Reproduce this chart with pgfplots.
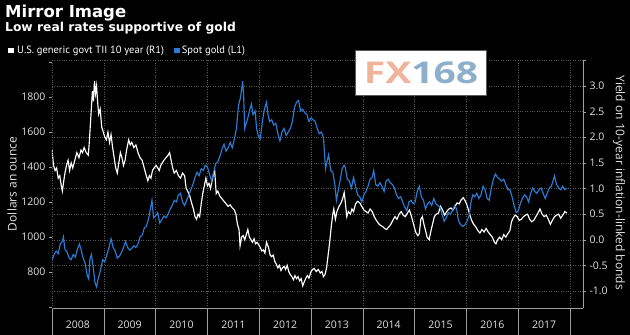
\documentclass[border=0pt]{standalone}
\usepackage{fontspec}
\usepackage{pgfplots}
\usepackage{pgfplotstable}
\pgfplotsset{compat=1.18}
\setmainfont{Open Sans}
\newfontfamily\titlefont{DejaVu Sans}
\newfontfamily\legfont{PT Sans}
\definecolor{goldblue}{HTML}{2B7CD6}
\definecolor{gridc}{HTML}{5A5A5A}
\definecolor{axc}{HTML}{A0A0A0}
\definecolor{txt}{HTML}{E2E2E2}
\definecolor{fxsalmon}{HTML}{EFB49C}
\definecolor{fxblue}{HTML}{8DAFCB}

\pgfplotstableread{
x y
2008.00 870
2008.04 900
2008.08 920
2008.12 905
2008.16 960
2008.20 975
2008.22 1000
2008.25 930
2008.29 915
2008.33 880
2008.37 870
2008.41 900
2008.45 885
2008.49 930
2008.53 960
2008.56 930
2008.60 880
2008.64 850
2008.68 780
2008.71 760
2008.73 870
2008.76 900
2008.79 840
2008.83 740
2008.86 715
2008.89 760
2008.92 790
2008.95 830
2008.98 870
2009.02 860
2009.06 900
2009.10 940
2009.14 990
2009.18 940
2009.22 920
2009.26 880
2009.30 890
2009.34 910
2009.38 940
2009.42 975
2009.46 940
2009.50 925
2009.54 935
2009.58 950
2009.62 940
2009.66 960
2009.70 1000
2009.74 1010
2009.78 1050
2009.82 1060
2009.86 1100
2009.90 1160
2009.93 1210
2009.96 1110
2010.00 1120
2010.04 1140
2010.08 1080
2010.12 1100
2010.16 1120
2010.20 1110
2010.24 1130
2010.28 1160
2010.32 1180
2010.36 1210
2010.40 1200
2010.44 1240
2010.48 1250
2010.52 1200
2010.56 1180
2010.60 1210
2010.64 1240
2010.68 1270
2010.72 1300
2010.76 1340
2010.80 1370
2010.84 1350
2010.88 1390
2010.92 1380
2010.96 1410
2011.00 1400
2011.04 1360
2011.08 1320
2011.12 1370
2011.16 1420
2011.20 1430
2011.24 1460
2011.28 1500
2011.32 1530
2011.36 1490
2011.40 1510
2011.44 1540
2011.48 1510
2011.52 1560
2011.56 1620
2011.60 1750
2011.64 1800
2011.68 1890
2011.70 1800
2011.72 1620
2011.75 1650
2011.78 1680
2011.82 1730
2011.85 1760
2011.88 1700
2011.92 1720
2011.95 1620
2011.98 1580
2012.02 1560
2012.06 1660
2012.10 1730
2012.14 1770
2012.17 1700
2012.20 1660
2012.24 1670
2012.28 1640
2012.32 1650
2012.36 1590
2012.40 1550
2012.44 1600
2012.48 1620
2012.52 1580
2012.56 1600
2012.60 1620
2012.64 1660
2012.68 1740
2012.72 1770
2012.76 1780
2012.80 1720
2012.84 1730
2012.88 1710
2012.92 1700
2012.96 1660
2013.00 1680
2013.04 1670
2013.08 1660
2013.12 1620
2013.16 1590
2013.20 1600
2013.24 1570
2013.28 1390
2013.30 1420
2013.34 1470
2013.38 1380
2013.42 1370
2013.46 1300
2013.49 1210
2013.52 1260
2013.56 1320
2013.60 1390
2013.64 1410
2013.66 1400
2013.70 1330
2013.74 1320
2013.78 1280
2013.82 1340
2013.86 1290
2013.90 1240
2013.94 1230
2013.98 1200
2014.02 1240
2014.06 1260
2014.10 1290
2014.14 1330
2014.18 1340
2014.21 1380
2014.25 1300
2014.29 1290
2014.33 1310
2014.37 1290
2014.41 1260
2014.45 1320
2014.49 1330
2014.53 1310
2014.57 1300
2014.61 1280
2014.65 1240
2014.69 1220
2014.73 1230
2014.77 1200
2014.81 1170
2014.85 1150
2014.89 1200
2014.93 1210
2014.97 1190
2015.01 1200
2015.05 1260
2015.09 1290
2015.13 1230
2015.17 1210
2015.21 1160
2015.25 1190
2015.29 1200
2015.33 1180
2015.37 1220
2015.41 1190
2015.45 1180
2015.49 1170
2015.53 1130
2015.57 1090
2015.61 1110
2015.65 1140
2015.69 1130
2015.73 1150
2015.77 1180
2015.81 1160
2015.85 1090
2015.89 1070
2015.93 1060
2015.97 1070
2016.01 1090
2016.05 1120
2016.09 1200
2016.12 1240
2016.16 1230
2016.20 1250
2016.24 1220
2016.28 1240
2016.32 1290
2016.36 1270
2016.40 1220
2016.44 1210
2016.48 1280
2016.52 1330
2016.56 1360
2016.60 1340
2016.64 1330
2016.68 1320
2016.72 1330
2016.76 1300
2016.80 1270
2016.84 1270
2016.88 1230
2016.92 1180
2016.96 1140
2017.00 1150
2017.04 1190
2017.08 1220
2017.12 1240
2017.16 1230
2017.20 1200
2017.24 1250
2017.28 1280
2017.32 1260
2017.36 1250
2017.40 1270
2017.44 1280
2017.48 1250
2017.52 1220
2017.56 1250
2017.60 1280
2017.64 1290
2017.68 1330
2017.70 1350
2017.74 1300
2017.78 1280
2017.82 1270
2017.86 1290
2017.90 1270
2017.94 1280
}\golddata

\pgfplotstableread{
x y
2008.00 1.75
2008.03 1.45
2008.06 1.35
2008.09 1.40
2008.12 1.20
2008.15 1.25
2008.18 1.05
2008.20 0.95
2008.22 1.10
2008.25 1.30
2008.28 1.45
2008.31 1.55
2008.34 1.35
2008.37 1.50
2008.40 1.40
2008.44 1.55
2008.48 1.70
2008.52 1.60
2008.56 1.75
2008.59 1.70
2008.62 1.80
2008.66 1.70
2008.70 1.65
2008.72 1.90
2008.75 2.40
2008.78 2.90
2008.80 2.70
2008.82 3.10
2008.84 2.85
2008.86 3.00
2008.88 2.70
2008.90 2.45
2008.93 2.55
2008.96 2.20
2008.99 2.10
2009.02 2.00
2009.05 1.95
2009.08 2.10
2009.11 1.90
2009.14 2.05
2009.17 1.80
2009.20 1.60
2009.23 1.40
2009.26 1.30
2009.29 1.50
2009.32 1.70
2009.35 1.60
2009.38 1.45
2009.41 1.55
2009.44 1.75
2009.48 1.95
2009.51 1.85
2009.54 1.90
2009.58 1.80
2009.62 1.85
2009.66 1.70
2009.70 1.60
2009.74 1.55
2009.78 1.40
2009.82 1.25
2009.85 1.15
2009.88 1.25
2009.91 1.20
2009.94 1.35
2009.97 1.40
2010.01 1.45
2010.04 1.40
2010.07 1.35
2010.10 1.45
2010.13 1.50
2010.16 1.55
2010.20 1.60
2010.24 1.65
2010.27 1.70
2010.30 1.55
2010.33 1.40
2010.36 1.30
2010.40 1.35
2010.44 1.25
2010.48 1.20
2010.52 1.30
2010.56 1.25
2010.59 1.00
2010.62 0.95
2010.66 0.85
2010.70 0.70
2010.73 0.60
2010.76 0.45
2010.79 0.40
2010.82 0.50
2010.85 0.45
2010.88 0.70
2010.91 0.90
2010.94 1.05
2010.97 1.20
2011.00 1.05
2011.03 1.10
2011.06 1.00
2011.09 1.15
2011.12 1.30
2011.14 1.35
2011.17 0.90
2011.20 0.95
2011.24 0.85
2011.28 0.80
2011.32 0.75
2011.36 0.70
2011.40 0.65
2011.44 0.68
2011.48 0.62
2011.52 0.58
2011.55 0.50
2011.58 0.30
2011.61 0.20
2011.63 -0.12
2011.66 0.05
2011.69 0.08
2011.72 0.00
2011.75 0.10
2011.78 0.20
2011.81 0.05
2011.84 0.00
2011.87 -0.05
2011.90 0.02
2011.93 -0.08
2011.96 -0.05
2011.99 -0.10
2012.02 -0.15
2012.05 -0.22
2012.08 -0.20
2012.11 -0.26
2012.14 -0.05
2012.18 -0.15
2012.21 -0.30
2012.24 -0.33
2012.27 -0.30
2012.30 -0.42
2012.33 -0.48
2012.36 -0.55
2012.39 -0.50
2012.42 -0.60
2012.45 -0.55
2012.48 -0.52
2012.51 -0.58
2012.54 -0.50
2012.57 -0.62
2012.60 -0.68
2012.63 -0.72
2012.66 -0.78
2012.69 -0.70
2012.72 -0.76
2012.75 -0.72
2012.78 -0.80
2012.81 -0.76
2012.84 -0.90
2012.87 -0.82
2012.90 -0.75
2012.93 -0.70
2012.96 -0.75
2013.00 -0.62
2013.03 -0.58
2013.06 -0.56
2013.10 -0.62
2013.14 -0.58
2013.18 -0.65
2013.21 -0.62
2013.24 -0.72
2013.27 -0.68
2013.30 -0.55
2013.33 -0.30
2013.36 -0.05
2013.39 0.25
2013.42 0.50
2013.44 0.60
2013.47 0.40
2013.50 0.55
2013.54 0.65
2013.58 0.72
2013.61 0.80
2013.64 0.92
2013.66 0.75
2013.69 0.45
2013.72 0.55
2013.76 0.50
2013.79 0.60
2013.82 0.55
2013.86 0.70
2013.90 0.75
2013.94 0.72
2013.98 0.65
2014.02 0.58
2014.06 0.55
2014.10 0.52
2014.14 0.60
2014.18 0.55
2014.22 0.45
2014.26 0.38
2014.30 0.32
2014.34 0.28
2014.38 0.26
2014.42 0.22
2014.46 0.20
2014.50 0.25
2014.54 0.30
2014.58 0.38
2014.62 0.45
2014.66 0.40
2014.70 0.50
2014.74 0.55
2014.78 0.48
2014.82 0.45
2014.86 0.52
2014.90 0.58
2014.94 0.45
2014.98 0.30
2015.02 0.15
2015.06 0.08
2015.09 0.12
2015.12 0.40
2015.15 0.45
2015.18 0.30
2015.21 0.18
2015.24 0.05
2015.28 0.00
2015.31 0.15
2015.34 0.28
2015.38 0.45
2015.42 0.50
2015.46 0.52
2015.50 0.65
2015.54 0.58
2015.58 0.48
2015.62 0.55
2015.66 0.60
2015.70 0.62
2015.74 0.58
2015.78 0.65
2015.82 0.72
2015.86 0.70
2015.90 0.78
2015.94 0.82
2015.98 0.75
2016.02 0.65
2016.06 0.50
2016.10 0.38
2016.14 0.30
2016.18 0.25
2016.22 0.18
2016.26 0.13
2016.30 0.20
2016.34 0.15
2016.38 0.22
2016.42 0.15
2016.46 0.10
2016.50 0.05
2016.54 -0.05
2016.57 -0.08
2016.60 0.00
2016.64 0.05
2016.68 0.00
2016.72 0.10
2016.76 0.05
2016.80 0.12
2016.84 0.18
2016.87 0.35
2016.90 0.42
2016.94 0.48
2016.98 0.45
2017.02 0.38
2017.06 0.40
2017.10 0.45
2017.14 0.48
2017.18 0.50
2017.22 0.40
2017.26 0.35
2017.30 0.38
2017.34 0.45
2017.38 0.52
2017.42 0.60
2017.46 0.50
2017.50 0.45
2017.54 0.48
2017.58 0.40
2017.62 0.30
2017.66 0.38
2017.70 0.45
2017.74 0.48
2017.78 0.50
2017.82 0.42
2017.86 0.48
2017.90 0.55
2017.94 0.52
}\tiidata

\pgfplotsset{
  base/.style={
    at={(52pt,27pt)}, anchor=south west, scale only axis,
    width=531pt, height=248pt, xmin=2008, xmax=2018.25,
    tick label style={font=\fontsize{10.5}{12}\selectfont, text=txt},
    tick align=outside, major tick length=3pt,
  }
}

\begin{document}
\begin{tikzpicture}[x=1pt,y=1pt]
\useasboundingbox (0,0) rectangle (630,335);
\fill[black] (0,0) rectangle (630,335);

% x axis, year separators and vertical grid
\begin{axis}[base, ymin=0, ymax=1,
  axis y line=none, axis x line*=bottom,
  x axis line style={axc, -},
  xtick={2008,...,2018},
  xticklabels={2008,2009,2010,2011,2012,2013,2014,2015,2016,2017,},
  major tick length=27pt,
  xtick style={axc, line width=0.5pt},
  xmajorgrids, x grid style={gridc, dotted},
  xticklabel style={anchor=center, xshift=25.9pt, yshift=10pt},
]
\end{axis}

% right axis: TII yield
\begin{axis}[base, ymin=-1.332, ymax=3.507,
  axis x line=none, axis y line*=right,
  y axis line style={axc, -},
  ytick={-1,-0.5,0,0.5,1,1.5,2,2.5,3},
  yticklabels={-1.0,-0.5,0.0,0.5,1.0,1.5,2.0,2.5,3.0},
  ytick style={axc},
  ymajorgrids, y grid style={gridc, dotted},
  extra y ticks={3.5}, extra y tick labels={},
  extra y tick style={grid=major},
  ylabel={Yield on 10-year inflation-linked bonds},
  ylabel style={at={(axis description cs:1.0678,0.506)}, anchor=center, rotate=180,
    font=\fontsize{12}{14}\selectfont, text=txt},
]
\addplot[white, line width=1.15pt] table {\tiidata};
\end{axis}

% left axis: spot gold
\begin{axis}[base, ymin=594.3, ymax=2011.5,
  axis x line=none, axis y line*=left,
  y axis line style={gridc, dotted},
  ytick={600,800,1000,1200,1400,1600,1800,2000},
  yticklabels={,800,1000,1200,1400,1600,1800,},
  ytick style={axc},
  ylabel={Dollars an ounce},
  ylabel style={at={(axis description cs:-0.0753,0.5)}, anchor=center,
    font=\fontsize{12}{14}\selectfont, text=txt},
]
\addplot[goldblue, line width=1.15pt] table {\golddata};
\end{axis}

% titles
\node[anchor=base west, inner sep=0, text=white, font=\titlefont\bfseries\fontsize{16.5}{19}\selectfont] at (5,317.2) {Mirror Image};
\node[anchor=base west, inner sep=0, text=white, font=\titlefont\bfseries\fontsize{12.3}{14}\selectfont] at (5,303.3) {Low real rates supportive of gold};

% legend
\fill[white] (8.3,281.7) rectangle ++(5.7,5.7);
\node[anchor=base west, inner sep=0, text=white, font=\legfont\fontsize{10.5}{12}\selectfont] at (17,281) {U.S. generic govt TII 10 year (R1)};
\fill[goldblue] (174,281.7) rectangle ++(5.7,5.7);
\node[anchor=base west, inner sep=0, text=white, font=\legfont\fontsize{10.5}{12}\selectfont] at (181.7,281) {Spot gold (L1)};

% watermark
\fill[white, draw=gridc, line width=0.4pt] (355,240) rectangle (486,285);
\node[inner sep=0, xscale=1.3, font=\bfseries\fontsize{30}{30}\selectfont] at (421,262.5) {\textcolor{fxsalmon}{FX}\textcolor{fxblue}{168}};
\end{tikzpicture}
\end{document}
